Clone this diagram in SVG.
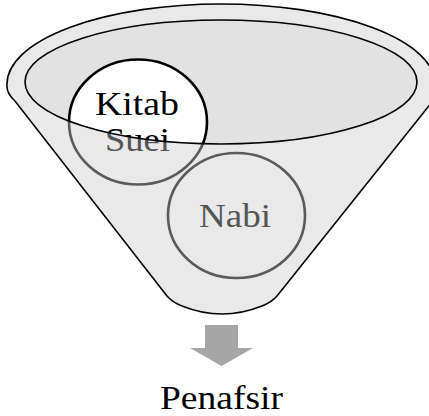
<svg xmlns="http://www.w3.org/2000/svg" width="429" height="416" viewBox="0 0 429 416">
  <style>
    .label { font-family: "Liberation Serif", "Times New Roman", serif; font-size: 33px; text-anchor: middle; }
    .front { fill: #000; }
    .back { fill: #555; }
    .outline { stroke: #000; stroke-width: 1.6; }
  </style>
  <defs>
    <ellipse id="opening" cx="221" cy="82" rx="196" ry="62"/>
    <clipPath id="inOpening">
      <use href="#opening"/>
    </clipPath>
    <clipPath id="belowOpening">
      <path clip-rule="evenodd" d="M -10,-10 H 440 V 430 H -10 Z M 25,82 A 196,62 0 1 0 417,82 A 196,62 0 1 0 25,82 Z"/>
    </clipPath>
  </defs>

  <!-- funnel body -->
  <g id="funnel">
    <path class="outline" fill="#e9e9e9" d="M 7,84 A 214,80 0 0 1 435,84 C 438,90 438,94 436,97 L 277,296 Q 272,302 262,306 Q 222,322 182,306 Q 172,302 167,296 L 15,101 Q 6,93 7,84 Z"/>
    <use href="#opening" fill="#e2e2e2"/>
  </g>

  <!-- "Kitab Suei": the part seen through the opening -->
  <g id="kitab-suei">
    <g clip-path="url(#inOpening)">
      <ellipse cx="138" cy="122" rx="69" ry="62.5" fill="#fff" stroke="#000" stroke-width="2.6"/>
      <text class="label front" x="137" y="115" textLength="84" lengthAdjust="spacingAndGlyphs">Kitab</text>
      <text class="label front" x="137.5" y="151" textLength="65" lengthAdjust="spacingAndGlyphs">Suei</text>
    </g>
    <g clip-path="url(#belowOpening)">
      <ellipse cx="138" cy="122" rx="69" ry="62.5" fill="#e9e9e9" stroke="#5a5a5a" stroke-width="2.6"/>
      <text class="label back" x="137" y="115" textLength="84" lengthAdjust="spacingAndGlyphs">Kitab</text>
      <text class="label back" x="137.5" y="151" textLength="65" lengthAdjust="spacingAndGlyphs">Suei</text>
    </g>
  </g>

  <!-- rim of the opening drawn over the contents -->
  <use href="#opening" fill="none" class="outline"/>

  <g id="nabi">
    <ellipse cx="236.5" cy="215.5" rx="68.5" ry="62.5" fill="#e9e9e9" stroke="#5a5a5a" stroke-width="2.6"/>
    <text class="label back" x="235" y="227" textLength="72" lengthAdjust="spacingAndGlyphs">Nabi</text>
  </g>

  <!-- output arrow -->
  <g id="connectors">
    <path fill="#a6a6a6" d="M 205,325 H 238 V 348 H 253 L 221.5,366 L 190,348 H 205 Z"/>
  </g>

  <g id="penafsir">
    <text class="label front" x="221.5" y="409" textLength="123" lengthAdjust="spacingAndGlyphs">Penafsir</text>
  </g>
</svg>
